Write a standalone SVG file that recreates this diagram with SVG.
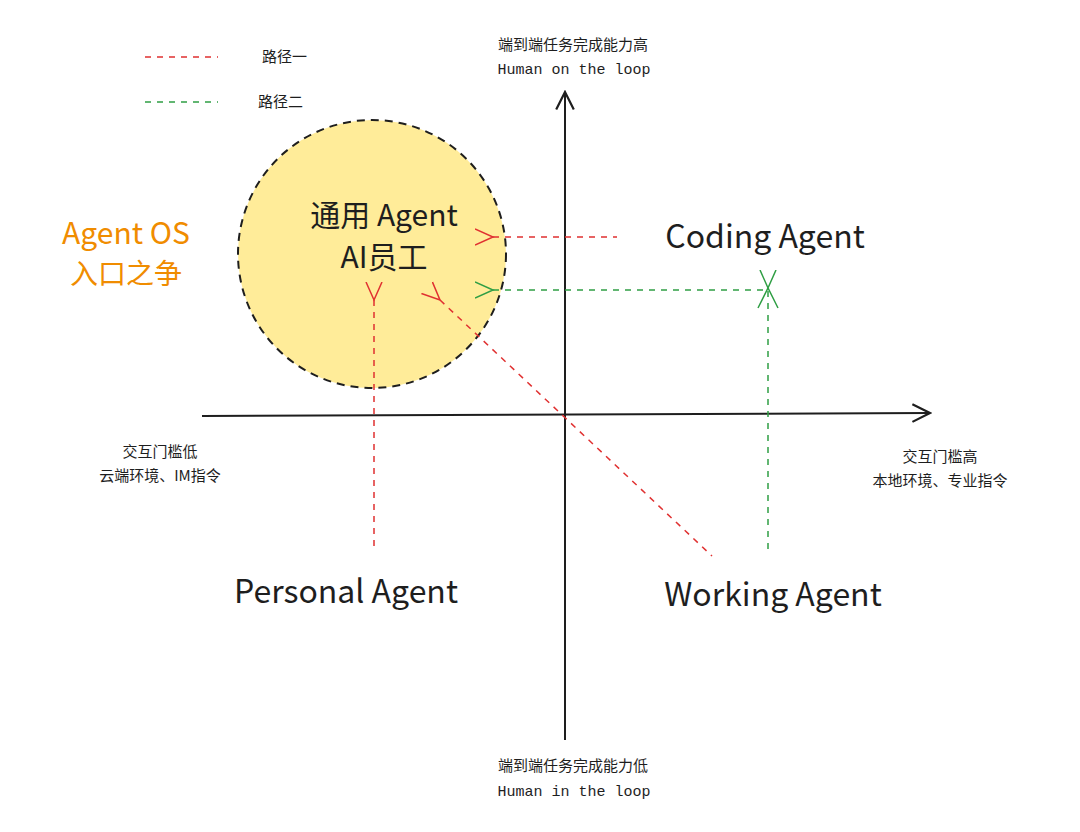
<svg xmlns="http://www.w3.org/2000/svg" width="1080" height="832" viewBox="0 0 1080 832">
<style>
.t{font-family:"Noto Sans CJK SC","Noto Sans",sans-serif;fill:#1e1e1e}
.h{font-family:"Liberation Mono","Noto Sans CJK SC",monospace;fill:#1e1e1e}
.r{stroke:#e03131;stroke-width:1.5;fill:none;stroke-dasharray:6 6}
.g{stroke:#2f9e44;stroke-width:1.5;fill:none;stroke-dasharray:6 6}
.ax{stroke:#1e1e1e;stroke-width:2;fill:none}
</style>
<defs>
<marker id="ar" viewBox="0 0 20 20" refX="2" refY="10" markerWidth="20" markerHeight="20" markerUnits="userSpaceOnUse" orient="auto-start-reverse"><path d="M20 2 L2 10 L20 18" fill="none" stroke="#e03131" stroke-width="1.5"/></marker>
<marker id="ag" viewBox="0 0 20 20" refX="2" refY="10" markerWidth="20" markerHeight="20" markerUnits="userSpaceOnUse" orient="auto-start-reverse"><path d="M20 2 L2 10 L20 18" fill="none" stroke="#2f9e44" stroke-width="1.5"/></marker>
<marker id="ak" viewBox="0 0 20 20" refX="18" refY="10" markerWidth="22" markerHeight="22" markerUnits="userSpaceOnUse" orient="auto"><path d="M2 2 L18 10 L2 18" fill="none" stroke="#1e1e1e" stroke-width="2"/></marker>
</defs>
<rect width="1080" height="832" fill="#fff"/>
<g id="legend">
<line x1="145" y1="57" x2="218" y2="57" class="r"/>
<text x="262" y="62" class="t" font-size="15">路径一</text>
<line x1="145" y1="102" x2="218" y2="102" class="g"/>
<text x="258" y="107" class="t" font-size="15">路径二</text>
</g>
<g id="general">
<circle cx="372" cy="254" r="134" fill="#ffec99" stroke="#1e1e1e" stroke-width="2" stroke-dasharray="8 6"/>
<text x="384" y="226" class="t" font-size="30" text-anchor="middle">通用 Agent</text>
<text x="384" y="268" class="t" font-size="30" text-anchor="middle">AI员工</text>
</g>
<g id="agentos">
<text x="126" y="244" font-family="Noto Sans CJK SC,sans-serif" font-size="30" fill="#f08c00" text-anchor="middle">Agent OS</text>
<text x="126" y="284" font-family="Noto Sans CJK SC,sans-serif" font-size="28" fill="#f08c00" text-anchor="middle">入口之争</text>
</g>
<g id="axes">
<line x1="565" y1="740" x2="565" y2="92" class="ax" marker-end="url(#ak)"/>
<line x1="202" y1="416" x2="930" y2="413" class="ax" marker-end="url(#ak)"/>
</g>
<g id="connectors">
<line x1="493" y1="237" x2="617" y2="237" class="r" marker-start="url(#ar)"/>
<line x1="374" y1="300" x2="374" y2="552" class="r" marker-start="url(#ar)"/>
<line x1="440" y1="300" x2="712" y2="556" class="r" marker-start="url(#ar)"/>
<polyline points="493,290 768,290 768,555" class="g" marker-start="url(#ag)"/>
<line x1="768" y1="288" x2="768" y2="300" stroke="none" marker-start="url(#ag)" transform="rotate(0)"/>
<path d="M758 308 L768 288 L778 308" fill="none" stroke="#2f9e44" stroke-width="1.5"/>
</g>
<g id="coding"><text x="765" y="248" class="t" font-size="32" text-anchor="middle">Coding Agent</text></g>
<g id="personal"><text x="346" y="603" class="t" font-size="32" text-anchor="middle">Personal Agent</text></g>
<g id="working"><text x="773" y="606" class="t" font-size="32" text-anchor="middle">Working Agent</text></g>
<g id="labels">
<text x="573" y="50" class="t" font-size="15" text-anchor="middle">端到端任务完成能力高</text>
<text x="574" y="74" class="h" font-size="15" text-anchor="middle">Human on the loop</text>
<text x="573" y="771" class="t" font-size="15" text-anchor="middle">端到端任务完成能力低</text>
<text x="574" y="796" class="h" font-size="15" text-anchor="middle">Human in the loop</text>
<text x="160" y="457" class="t" font-size="15" text-anchor="middle">交互门槛低</text>
<text x="160" y="481" class="t" font-size="15" text-anchor="middle">云端环境、IM指令</text>
<text x="940" y="462" class="t" font-size="15" text-anchor="middle">交互门槛高</text>
<text x="940" y="486" class="t" font-size="15" text-anchor="middle">本地环境、专业指令</text>
</g>
</svg>
